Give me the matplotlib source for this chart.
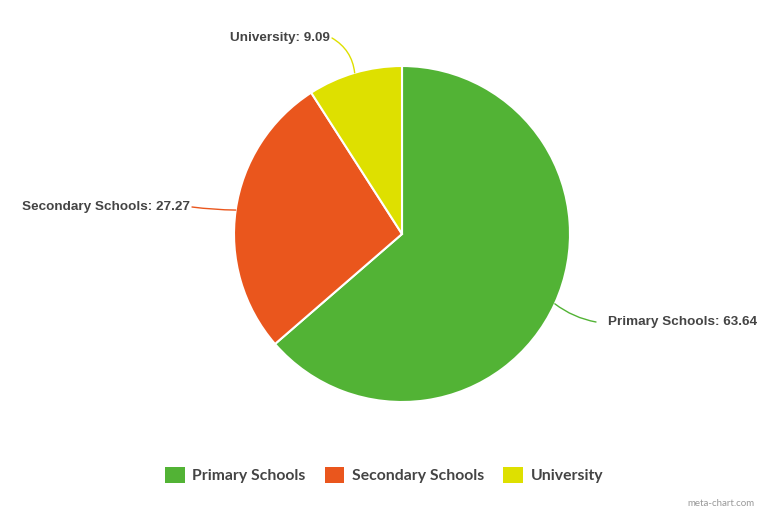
import numpy as np
import matplotlib
matplotlib.use("Agg")
from matplotlib import pyplot as plt

labels = ["Primary Schools", "Secondary Schools", "University"]
values = [63.64, 27.27, 9.09]
colors = ["#52b335", "#ea561d", "#dee000"]

W, H = 768, 512
cx, cy, r = 402, H - 234, 168

fig = plt.figure(figsize=(W / 100, H / 100), dpi=100)
ax = fig.add_axes([0, 0, 1, 1])

wedges, _ = ax.pie(values, colors=colors, startangle=90, counterclock=False,
                   center=(cx, cy), radius=r, frame=True,
                   wedgeprops=dict(edgecolor="white", linewidth=1.5))
ax.set_xlim(0, W)
ax.set_ylim(0, H)
ax.set_aspect("equal")
ax.axis("off")

# leader lines + labels: (text anchor, ha, curve)
label_pos = [
    ((608, 322), "left", -0.12),
    ((190, 207), "right", 0.03),
    ((330, 38), "right", -0.25),
]
for w, lab, val, col, (tpos, ha, rad) in zip(wedges, labels, values, colors, label_pos):
    ang = np.deg2rad((w.theta1 + w.theta2) / 2)
    px = cx + r * np.cos(ang)
    py = cy + r * np.sin(ang)
    tx, ty = tpos[0], H - tpos[1]
    lx = tx - 12 if ha == "left" else tx + 2
    ax.annotate("", xy=(px, py), xytext=(lx, ty),
                arrowprops=dict(arrowstyle="-", color=col, lw=1,
                                shrinkA=0, shrinkB=0,
                                connectionstyle=f"arc3,rad={rad}"))
    ax.text(tx, ty, f"{lab}: {val:.2f}", ha=ha, va="center", fontsize=9.7,
            fontweight="bold", color="#444444", family="Liberation Sans")

leg = fig.legend(wedges, labels, loc="center", bbox_to_anchor=(384 / W, (H - 475) / H),
                 ncol=3, frameon=False, handlelength=1.25, handleheight=1.25,
                 handletextpad=0.5, columnspacing=1.2,
                 prop=dict(family="Lato", size=11.3, weight="bold"))
for t in leg.get_texts():
    t.set_color("#444444")
for h in leg.legend_handles:
    h.set_edgecolor("none")

fig.text(755 / W, (H - 503) / H, "meta-chart.com", ha="right", va="center",
         fontsize=7, color="#999999", family="Lato")

fig.savefig("out.png", dpi=100, facecolor="white")
